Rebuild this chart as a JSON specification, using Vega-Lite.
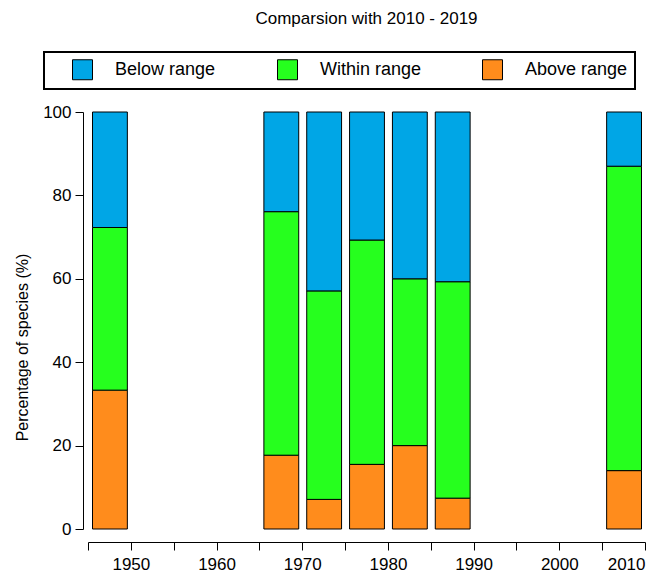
{
  "$schema": "https://vega.github.io/schema/vega-lite/v6.json",
  "width": 557,
  "height": 417,
  "autosize": "none",
  "padding": {"left": 88, "top": 112, "right": 5, "bottom": 48},
  "title": {"text": "Comparsion with 2010 - 2019", "fontSize": 17, "font": "Liberation Sans", "fontWeight": "normal", "frame": "group", "offset": 23, "anchor": "middle", "color": "black"},
  "config": {"view": {"stroke": null}, "font": "Liberation Sans", "legend": {"strokeWidth": 2}},
  "data": {"values": [
    {"period": "1950", "from": 1945, "to": 1950, "category": "Above range", "level": 1, "percent": 33.3},
    {"period": "1950", "from": 1945, "to": 1950, "category": "Within range", "level": 2, "percent": 39.0},
    {"period": "1950", "from": 1945, "to": 1950, "category": "Below range", "level": 3, "percent": 27.7},
    {"period": "1970", "from": 1965, "to": 1970, "category": "Above range", "level": 1, "percent": 17.7},
    {"period": "1970", "from": 1965, "to": 1970, "category": "Within range", "level": 2, "percent": 58.4},
    {"period": "1970", "from": 1965, "to": 1970, "category": "Below range", "level": 3, "percent": 23.9},
    {"period": "1975", "from": 1970, "to": 1975, "category": "Above range", "level": 1, "percent": 7.1},
    {"period": "1975", "from": 1970, "to": 1975, "category": "Within range", "level": 2, "percent": 50.0},
    {"period": "1975", "from": 1970, "to": 1975, "category": "Below range", "level": 3, "percent": 42.9},
    {"period": "1980", "from": 1975, "to": 1980, "category": "Above range", "level": 1, "percent": 15.5},
    {"period": "1980", "from": 1975, "to": 1980, "category": "Within range", "level": 2, "percent": 53.8},
    {"period": "1980", "from": 1975, "to": 1980, "category": "Below range", "level": 3, "percent": 30.7},
    {"period": "1985", "from": 1980, "to": 1985, "category": "Above range", "level": 1, "percent": 20.0},
    {"period": "1985", "from": 1980, "to": 1985, "category": "Within range", "level": 2, "percent": 40.0},
    {"period": "1985", "from": 1980, "to": 1985, "category": "Below range", "level": 3, "percent": 40.0},
    {"period": "1990", "from": 1985, "to": 1990, "category": "Above range", "level": 1, "percent": 7.4},
    {"period": "1990", "from": 1985, "to": 1990, "category": "Within range", "level": 2, "percent": 51.9},
    {"period": "1990", "from": 1985, "to": 1990, "category": "Below range", "level": 3, "percent": 40.7},
    {"period": "2010", "from": 2005, "to": 2010, "category": "Above range", "level": 1, "percent": 14.0},
    {"period": "2010", "from": 2005, "to": 2010, "category": "Within range", "level": 2, "percent": 73.0},
    {"period": "2010", "from": 2005, "to": 2010, "category": "Below range", "level": 3, "percent": 13.0}
  ]},
  "mark": {"type": "bar", "stroke": "black", "strokeWidth": 1, "binSpacing": 8},
  "encoding": {
    "x": {"field": "from", "type": "quantitative", "bin": "binned",
      "scale": {"domain": [1945, 2010], "nice": false, "zero": false},
      "axis": {"title": null, "values": [1945,1950,1955,1960,1965,1970,1975,1980,1985,1990,1995,2000,2005,2010],
        "labelExpr": "datum.value % 10 === 0 ? datum.label : ''", "format": "d",
        "labelFlush": true, "labelOverlap": false, "offset": 13, "tickSize": 8, "labelPadding": 6,
        "labelFontSize": 17, "labelColor": "black", "domainColor": "black", "tickColor": "black", "grid": false}},
    "x2": {"field": "to"},
    "y": {"field": "percent", "type": "quantitative", "stack": "zero",
      "scale": {"domain": [0, 100], "nice": false},
      "axis": {"values": [0,20,40,60,80,100], "offset": 5, "tickSize": 8, "labelPadding": 4,
        "labelFontSize": 17, "labelColor": "black", "domainColor": "black", "tickColor": "black", "grid": false,
        "title": "Percentage of species (%)", "titleFontSize": 16, "titleFontWeight": "normal", "titleColor": "black",
        "titleX": -53, "titleY": 235, "titleAngle": 270, "titleBaseline": "bottom", "titleAlign": "center"}},
    "order": {"field": "level", "type": "quantitative", "sort": "ascending"},
    "color": {"field": "category", "type": "nominal",
      "sort": ["Below range", "Within range", "Above range"],
      "scale": {"domain": ["Below range", "Within range", "Above range"], "range": ["#00A6E6", "#26FF1E", "#FF8C1C"]},
      "legend": {"orient": "none", "legendX": -44, "legendY": -60, "direction": "horizontal", "title": null,
        "symbolType": "square", "symbolSize": 400, "symbolStrokeColor": "black", "symbolStrokeWidth": 1, "symbolOpacity": 1,
        "labelFontSize": 18, "labelColor": "black", "labelOffset": 22, "columnPadding": 38, "padding": 7,
        "strokeColor": "black", "symbolOffset": 21, "gridAlign": "all", "labelLimit": 300}}
  }
}
